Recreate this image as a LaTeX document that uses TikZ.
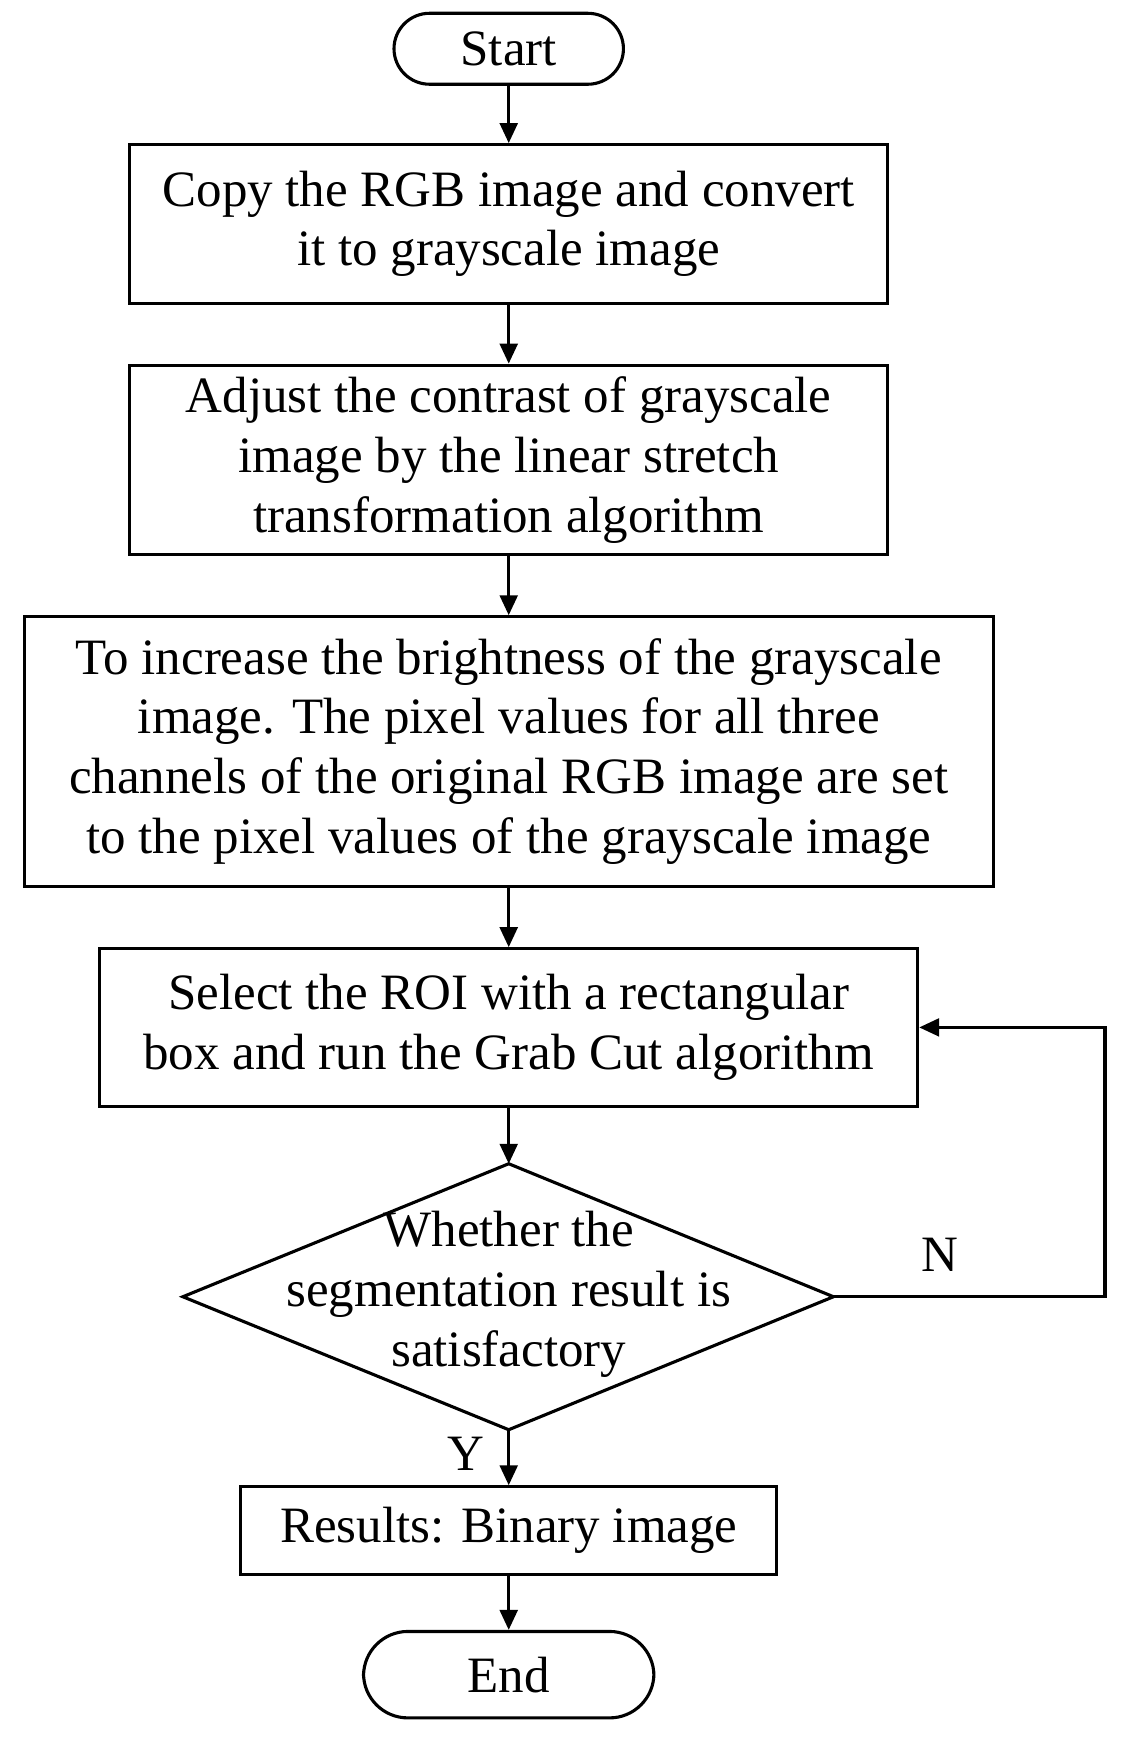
\documentclass[tikz,border=0pt]{standalone}
\usepackage{fontspec}
\setmainfont{Liberation Serif}
\usetikzlibrary{shapes.geometric,arrows.meta}
\begin{document}
\begin{tikzpicture}[x=0.5pt,y=-0.5pt,
  box/.style={draw,line width=1.4pt,align=center,inner sep=0pt,font=\fontsize{23}{27}\selectfont},
  arr/.style={line width=1.4pt,-{Triangle[length=9pt,width=8pt]}},
  lab/.style={font=\fontsize{23}{25}\selectfont}]
\useasboundingbox (0,0) rectangle (1024,1588);
\node[box,rounded corners=16pt,minimum width=207*0.5pt,minimum height=64*0.5pt] (start) at (459,44) {Start};
\node[box,minimum width=684*0.5pt,minimum height=143*0.5pt] (b1) at (459,202) {Copy the RGB image and convert\\it to grayscale image};
\node[box,minimum width=684*0.5pt,minimum height=171*0.5pt] (b2) at (459,415) {Adjust the contrast of grayscale\\image by the linear stretch\\transformation algorithm};
\node[box,minimum width=874*0.5pt,minimum height=243*0.5pt] (b3) at (459,678) {To increase the brightness of the grayscale\\image. The pixel values for all three\\channels of the original RGB image are set\\to the pixel values of the grayscale image};
\node[box,minimum width=738*0.5pt,minimum height=142*0.5pt] (b4) at (459,927) {Select the ROI with a rectangular\\box and run the Grab Cut algorithm};
\draw[line width=1.4pt] (165,1170) coordinate (dl) -- (459,1050) coordinate (dt) -- (752,1170) coordinate (dr) -- (459,1290) coordinate (db) -- cycle;
\node[lab,align=center,font=\fontsize{23}{27}\selectfont] (dtext) at (459,1168) {Whether the\\segmentation result is\\satisfactory};
\node[box,minimum width=484*0.5pt,minimum height=79*0.5pt] (b5) at (459,1381) {Results: Binary image};
\node[box,rounded corners=20pt,minimum width=262*0.5pt,minimum height=78*0.5pt] (end) at (459,1511) {End};
\draw[arr] (start) -- (b1);
\draw[arr] (b1) -- (b2);
\draw[arr] (b2) -- (b3);
\draw[arr] (b3) -- (b4);
\draw[arr] (b4) -- (dt);
\draw[arr] (db) -- (b5);
\draw[arr] (b5) -- (end);
\coordinate (c1) at (997,1170);
\coordinate (c2) at (997,927);
\draw[arr] (dr) -- (c1) -- (c2) -- (b4.east);
\node[lab] (n) at (848,1132) {N};
\node[lab] (y) at (420,1312) {Y};
\end{tikzpicture}
\end{document}
